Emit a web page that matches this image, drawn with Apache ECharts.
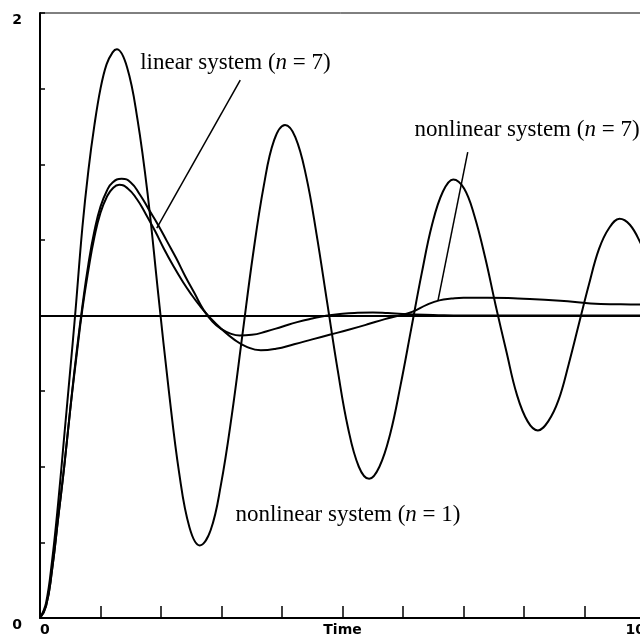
<!DOCTYPE html>
<html>
<head>
<meta charset="utf-8">
<script src="https://cdn.jsdelivr.net/npm/echarts@6/dist/echarts.min.js"></script>
<style>
  html, body { margin: 0; padding: 0; background: #fff; }
  #chart { width: 640px; height: 640px; }
</style>
</head>
<body>
<div id="chart"></div>
<script>
// Step responses: nonlinear system (n = 1), linear system (n = 7), nonlinear system (n = 7)
const n1Time = [0,0.1,0.2,0.3,0.4,0.5,0.58,0.7,0.8,0.9,1.0,1.1,1.2,1.27,
  1.44,1.61,1.78,1.955,2.13,2.30,2.47,2.64,
  2.82,2.99,3.17,3.345,3.52,3.70,3.87,4.05,
  4.22,4.40,4.57,4.745,4.92,5.09,5.27,5.44,
  5.61,5.79,5.96,6.135,6.31,6.48,6.66,6.83,
  7.01,7.18,7.36,7.53,7.71,7.88,8.06,8.23,
  8.40,8.57,8.74,8.905,9.07,9.24,9.41,9.58,
  9.75,9.925,10.0];
const n1Value = [0,0.05,0.19,0.38,0.6,0.82,1.0,1.29,1.48,1.63,1.75,1.83,1.87,1.88,
  1.82,1.65,1.40,1.07,0.75,0.48,0.30,0.24,
  0.29,0.44,0.67,0.935,1.20,1.43,1.58,1.63,
  1.59,1.46,1.27,1.045,0.82,0.63,0.50,0.46,
  0.50,0.61,0.77,0.955,1.14,1.30,1.41,1.45,
  1.42,1.33,1.19,1.035,0.88,0.74,0.65,0.62,
  0.65,0.72,0.84,0.97,1.10,1.22,1.29,1.32,
  1.30,1.24,1.20];

const linTime = [0,0.1,0.2,0.3,0.4,0.5,0.6,0.7,0.8,0.9,1.0,1.1,1.2,1.35,1.5,1.65,1.8,1.95,
  2.1,2.25,2.4,2.55,2.7,2.85,3.0,3.15,3.3,3.5,3.75,4.0,4.25,4.5,4.75,5.0,5.25,5.5,5.75,
  6.0,6.5,7,8,9,10];
const linValue = [0,0.04,0.16,0.33,0.50,0.69,0.87,1.03,1.17,1.28,1.36,1.41,1.44,1.452,1.44,1.40,1.35,1.30,
  1.245,1.19,1.13,1.075,1.02,0.98,0.955,0.94,0.934,0.936,0.948,0.963,0.978,0.99,1.0,1.006,1.009,1.01,1.008,
  1.005,1.002,1.0,1.0,1.0,1.0];

const n7Time = [0,0.1,0.2,0.3,0.4,0.5,0.6,0.7,0.8,0.9,1.0,1.1,1.2,1.31,1.45,1.6,1.75,1.9,
  2.05,2.2,2.35,2.5,2.65,2.8,3.0,3.2,3.4,3.65,3.9,4.2,4.5,4.8,5.1,5.4,5.7,5.9,
  6.15,6.4,6.6,6.8,7.0,7.4,7.9,8.6,9.1,9.6,10];
const n7Value = [0,0.04,0.16,0.33,0.50,0.69,0.86,1.02,1.15,1.26,1.34,1.39,1.42,1.432,1.42,1.385,1.335,1.28,
  1.22,1.165,1.115,1.07,1.03,0.995,0.955,0.922,0.898,0.885,0.89,0.905,0.921,0.937,0.953,0.97,0.988,0.998,
  1.012,1.036,1.05,1.056,1.059,1.059,1.056,1.049,1.04,1.037,1.036];

// Steady-state reference level
const setPoint = 1;

// Annotation texts, anchor points and leader lines (data coordinates)
const labelTexts = ['linear system', 'nonlinear system', 'nonlinear system'];
const labelOrders = ['7', '7', '1'];
const labelAt = [[3.23, 1.835], [8.05, 1.613], [5.09, 0.34]];
const leaderLines = [
  [[3.31, 1.778], [1.93, 1.289]],
  [[7.07, 1.54], [6.58, 1.051]]
];

const zip = (xs, ys) => xs.map((x, i) => [x, ys[i]]);

const curveStyle = { color: '#000', width: 2 };
const tickFont = { fontFamily: 'DejaVu Sans', fontWeight: 'bold', fontSize: 14, color: '#000' };

const chart = echarts.init(document.getElementById('chart'));
chart.setOption({
  animation: false,
  backgroundColor: '#fff',
  grid: {
    left: 40, top: 13, width: 605, height: 605,
    outerBoundsMode: 'none', containLabel: false,
    show: true, borderColor: '#000', borderWidth: 1, backgroundColor: 'transparent'
  },
  xAxis: {
    type: 'value', min: 0, max: 10, interval: 1,
    name: 'Time', nameLocation: 'middle', nameGap: 5, nameMoveOverlap: false,
    nameTextStyle: tickFont,
    axisLine: { lineStyle: { color: '#000', width: 2 } },
    axisTick: { inside: true, length: 12, lineStyle: { color: '#000', width: 1.5 } },
    axisLabel: Object.assign({
      margin: 5, alignMinLabel: 'left', alignMaxLabel: 'right',
      formatter: v => (v === 0 || v === 10) ? String(v) : ''
    }, tickFont),
    splitLine: { show: false }
  },
  yAxis: {
    type: 'value', min: 0, max: 2, interval: 0.25,
    axisLine: { lineStyle: { color: '#000', width: 2 } },
    axisTick: { inside: true, length: 5, lineStyle: { color: '#000', width: 1.5 } },
    axisLabel: Object.assign({
      margin: 18, verticalAlign: 'top',
      formatter: v => (v === 0 || v === 2) ? String(v) : ''
    }, tickFont),
    splitLine: { show: false }
  },
  series: [
    {
      name: 'nonlinear system (n = 1)', type: 'line', data: zip(n1Time, n1Value),
      smooth: 0.4, showSymbol: false, lineStyle: curveStyle,
      markLine: {
        silent: true, symbol: 'none', label: { show: false },
        lineStyle: { color: '#000', width: 2, type: 'solid' },
        data: [{ yAxis: setPoint }].concat(leaderLines.map(seg => [
          { coord: seg[0], lineStyle: { width: 1.5 } }, { coord: seg[1] }
        ]))
      },
      markPoint: {
        silent: true, symbol: 'circle', symbolSize: 0,
        data: labelAt.map((p, i) => ({
          coord: p,
          label: {
            show: true, position: 'inside',
            formatter: '{a|' + labelTexts[i] + ' (}{i|n}{a| = ' + labelOrders[i] + ')}',
            rich: {
              a: { fontFamily: 'Liberation Serif', fontSize: 23, color: '#000' },
              i: { fontFamily: 'Liberation Serif', fontStyle: 'italic', fontSize: 23, color: '#000' }
            }
          }
        }))
      }
    },
    {
      name: 'linear system (n = 7)', type: 'line', data: zip(linTime, linValue),
      smooth: 0.5, showSymbol: false, lineStyle: curveStyle
    },
    {
      name: 'nonlinear system (n = 7)', type: 'line', data: zip(n7Time, n7Value),
      smooth: 0.5, showSymbol: false, lineStyle: curveStyle
    }
  ]
});
</script>
</body>
</html>
